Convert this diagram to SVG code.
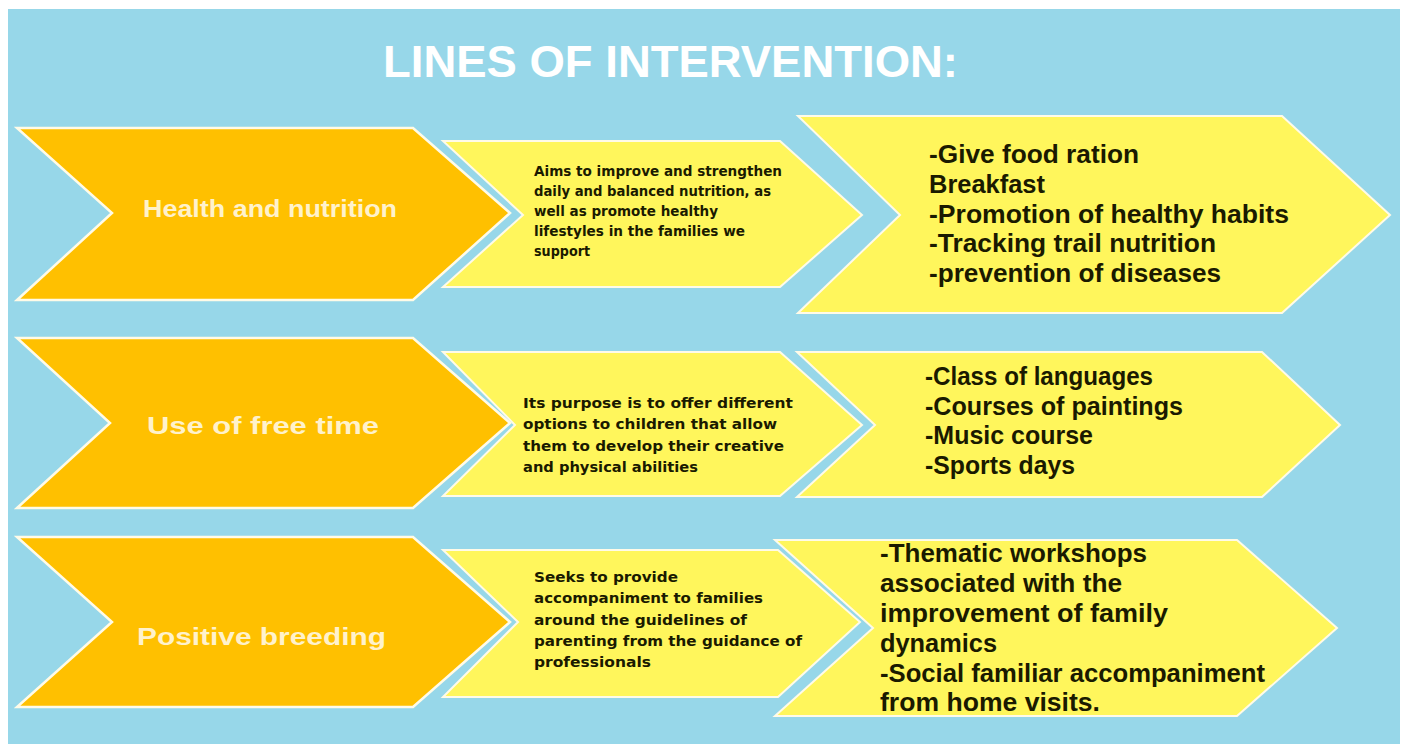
<svg xmlns="http://www.w3.org/2000/svg" width="1405" height="744" viewBox="0 0 1405 744">
<style>
.bg{fill:#97d7e9}
.org{fill:#ffc000;stroke:#fffbe8;stroke-width:2.5;stroke-linejoin:miter}
.yel{fill:#fff65c;stroke:#fffbe8;stroke-width:2;stroke-linejoin:miter}
.title{font-family:"Liberation Sans",Arial,sans-serif;font-weight:bold;font-size:44px;fill:#ffffff}
.otxt{font-family:"Liberation Sans",Arial,sans-serif;font-weight:bold;font-size:24px;fill:#fff2cc}
.mtxt{font-family:"DejaVu Sans",Verdana,sans-serif;font-weight:bold;font-size:13.5px;fill:#1a1a00}
.rtxt{font-family:"Liberation Sans",Arial,sans-serif;font-weight:bold;font-size:25px;fill:#1a1a00}
</style>
<rect width="1405" height="744" fill="#ffffff"/>
<rect class="bg" x="8" y="9" width="1392" height="735"/>
<text class="title" x="383" y="77" textLength="575" lengthAdjust="spacingAndGlyphs">LINES OF INTERVENTION:</text>

<g id="health-nutrition">
<polygon class="org" points="17,128 413,128 510,213 413,300 17,300 112,213"/>
<text class="otxt" x="143" y="217" textLength="254" lengthAdjust="spacingAndGlyphs">Health and nutrition</text>
</g>
<g id="health-aim">
<polygon class="yel" points="443,141 780,141 862,215 780,287 443,287 523,215"/>
<text class="mtxt" x="534" y="176" textLength="248" lengthAdjust="spacingAndGlyphs">Aims to improve and strengthen</text>
<text class="mtxt" x="534" y="196" textLength="237" lengthAdjust="spacingAndGlyphs">daily and balanced nutrition, as</text>
<text class="mtxt" x="534" y="216" textLength="184" lengthAdjust="spacingAndGlyphs">well as promote healthy</text>
<text class="mtxt" x="534" y="236" textLength="211" lengthAdjust="spacingAndGlyphs">lifestyles in the families we</text>
<text class="mtxt" x="534" y="256" textLength="56" lengthAdjust="spacingAndGlyphs">support</text>
</g>
<g id="health-actions">
<polygon class="yel" points="798,116 1282,116 1390,215 1282,313 798,313 900,215"/>
<text class="rtxt" x="929" y="163" textLength="210" lengthAdjust="spacingAndGlyphs">-Give food ration</text>
<text class="rtxt" x="929" y="193" textLength="116" lengthAdjust="spacingAndGlyphs">Breakfast</text>
<text class="rtxt" x="929" y="223" textLength="360" lengthAdjust="spacingAndGlyphs">-Promotion of healthy habits</text>
<text class="rtxt" x="929" y="252" textLength="287" lengthAdjust="spacingAndGlyphs">-Tracking trail nutrition</text>
<text class="rtxt" x="929" y="282" textLength="292" lengthAdjust="spacingAndGlyphs">-prevention of diseases</text>
</g>

<g id="free-time">
<polygon class="org" points="17,338 413,338 510,423 413,508 17,508 110,423"/>
<text class="otxt" x="147" y="434" textLength="232" lengthAdjust="spacingAndGlyphs">Use of free time</text>
</g>
<g id="free-time-aim">
<polygon class="yel" points="443,352 780,352 862,425 780,496 443,496 515,425"/>
<text class="mtxt" x="523" y="408" textLength="270" lengthAdjust="spacingAndGlyphs">Its purpose is to offer different</text>
<text class="mtxt" x="523" y="429" textLength="254" lengthAdjust="spacingAndGlyphs">options to children that allow</text>
<text class="mtxt" x="523" y="451" textLength="261" lengthAdjust="spacingAndGlyphs">them to develop their creative</text>
<text class="mtxt" x="523" y="472" textLength="175" lengthAdjust="spacingAndGlyphs">and physical abilities</text>
</g>
<g id="free-time-actions">
<polygon class="yel" points="797,352 1262,352 1340,425 1262,497 797,497 875,425"/>
<text class="rtxt" x="925" y="385" textLength="228" lengthAdjust="spacingAndGlyphs">-Class of languages</text>
<text class="rtxt" x="925" y="415" textLength="258" lengthAdjust="spacingAndGlyphs">-Courses of paintings</text>
<text class="rtxt" x="925" y="444" textLength="168" lengthAdjust="spacingAndGlyphs">-Music course</text>
<text class="rtxt" x="925" y="474" textLength="150" lengthAdjust="spacingAndGlyphs">-Sports days</text>
</g>

<g id="positive-breeding">
<polygon class="org" points="17,537 413,537 510,622 413,707 17,707 112,622"/>
<text class="otxt" x="137" y="645" textLength="249" lengthAdjust="spacingAndGlyphs">Positive breeding</text>
</g>
<g id="positive-breeding-aim">
<polygon class="yel" points="443,550 778,550 860,622 778,697 443,697 518,622"/>
<text class="mtxt" x="534" y="582" textLength="144" lengthAdjust="spacingAndGlyphs">Seeks to provide</text>
<text class="mtxt" x="534" y="603" textLength="229" lengthAdjust="spacingAndGlyphs">accompaniment to families</text>
<text class="mtxt" x="534" y="625" textLength="213" lengthAdjust="spacingAndGlyphs">around the guidelines of</text>
<text class="mtxt" x="534" y="646" textLength="268" lengthAdjust="spacingAndGlyphs">parenting from the guidance of</text>
<text class="mtxt" x="534" y="667" textLength="117" lengthAdjust="spacingAndGlyphs">professionals</text>
</g>
<g id="positive-breeding-actions">
<polygon class="yel" points="775,540 1237,540 1337,628 1237,716 775,716 873,628"/>
<text class="rtxt" x="880" y="562" textLength="267" lengthAdjust="spacingAndGlyphs">-Thematic workshops</text>
<text class="rtxt" x="880" y="592" textLength="242" lengthAdjust="spacingAndGlyphs">associated with the</text>
<text class="rtxt" x="880" y="622" textLength="288" lengthAdjust="spacingAndGlyphs">improvement of family</text>
<text class="rtxt" x="880" y="652" textLength="117" lengthAdjust="spacingAndGlyphs">dynamics</text>
<text class="rtxt" x="880" y="682" textLength="385" lengthAdjust="spacingAndGlyphs">-Social familiar accompaniment</text>
<text class="rtxt" x="880" y="711" textLength="220" lengthAdjust="spacingAndGlyphs">from home visits.</text>
</g>
</svg>
